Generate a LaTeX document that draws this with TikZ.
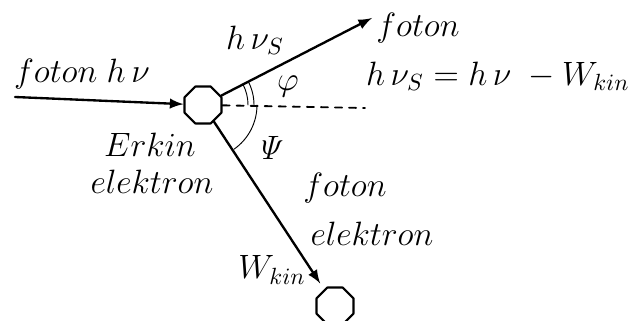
\documentclass[tikz,border=0pt]{standalone}
\usetikzlibrary{shapes.geometric,positioning}
\tikzset{
  octa/.style={draw,line width=0.9pt,regular polygon,regular polygon sides=8,minimum size=40*0.15mm,inner sep=0pt},
  lbl/.style={inner sep=0pt}
}
\begin{document}
\begin{tikzpicture}[x=0.15mm,y=0.15mm,line cap=round,line join=round,>=latex,font=\fontsize{14}{17}\selectfont]
  \useasboundingbox (0,0) rectangle (634,321);
  % particles
  \node[octa] (atom) at (203,216) {};
  \node[octa] (el) at (335,15) {};
  \coordinate (src) at (15,224);
  \coordinate (ftip) at (372,303);
  \coordinate (axis) at (365,213);
  % rays
  \draw[line width=1pt,->] (src) -- (atom);
  \draw[line width=1pt,->] (atom) -- (ftip);
  \draw[line width=0.8pt,dashed] (atom) -- (axis);
  \draw[line width=1pt,->,shorten >=3pt] (atom) -- (el);
  % angles
  \draw[line width=0.4pt] ([shift={(0:45)}]atom.center) arc[start angle=0,end angle=27,radius=45];
  \draw[line width=0.4pt] ([shift={(0:51)}]atom.center) arc[start angle=0,end angle=27,radius=51];
  \draw[line width=0.4pt] ([shift={(0:54)}]atom.center) arc[start angle=0,end angle=-55,radius=54];
  % labels
  \node[lbl] (fin) at (82,247) {$foton\;h\,\nu$};
  \node[lbl] (hvs) at (255,281) {$h\,\nu_S$};
  \node[lbl] (fout) at (418,293) {$foton$};
  \node[lbl] (phi) at (288,234) {$\varphi$};
  \node[lbl,anchor=east] (eq) at (630,245) {$h\,\nu_S = h\,\nu\; - W_{kin}$};
  \node[lbl] (psi) at (270,173) {$\mathit{\Psi}$};
  \node[lbl] (erk) at (150,176) {$Erkin$};
  \node[lbl] (elk) at (152,139) {$elektron$};
  \node[lbl] (fot2) at (345,133) {$foton$};
  \node[lbl] (elk2) at (372,87) {$elektron$};
  \node[lbl] (wk) at (272,51) {$W_{kin}$};
\end{tikzpicture}
\end{document}
